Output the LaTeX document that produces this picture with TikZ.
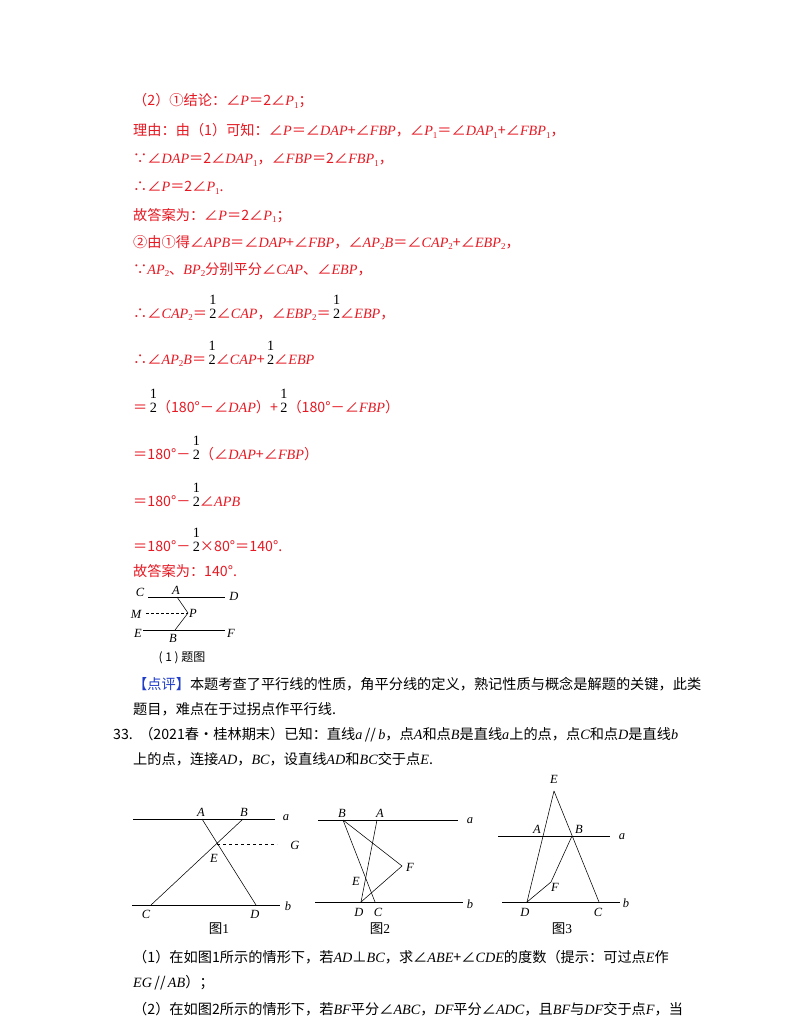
\documentclass[tikz,border=0pt]{standalone}
\usepackage{fontspec}
\setmainfont{Noto Sans CJK SC}
\newfontfamily\lib{Liberation Serif}
\newcommand\V[1]{{\lib\itshape #1}}
\newcommand\R[1]{{\lib #1}}
\newcommand\sub[1]{\raisebox{-0.35ex}{\lib\fontsize{9}{10}\selectfont #1}}
\newcommand\hf{\,\shortstack{\R{1}\\[1pt]\R{2}}}
\definecolor{ared}{RGB}{230,25,35}
\definecolor{ablue}{RGB}{30,60,200}
\begin{document}
\begin{tikzpicture}[x=1pt,y=-1pt,
  t/.style={anchor=base west,inner sep=0,font=\fontsize{14.2}{16}\selectfont},
  rt/.style={t,text=ared},
  lb/.style={inner sep=0,font=\fontsize{12.5}{14}\selectfont\lib\itshape},
  th/.style={line width=0.55pt}]
\useasboundingbox (0,0) rectangle (800,1035);
\fill[white] (0,0) rectangle (800,1035);
\node[rt] (l1) at (133,106) {（2）①结论：∠\V{P}＝2∠\V{P}\sub{1}；};
\node[rt] (l2) at (133,136) {理由：由（1）可知：∠\V{P}＝∠\V{DAP}+∠\V{FBP}，∠\V{P}\sub{1}＝∠\V{DAP}\sub{1}+∠\V{FBP}\sub{1}，};
\node[rt] (l3) at (133,164) {∵∠\V{DAP}＝2∠\V{DAP}\sub{1}，∠\V{FBP}＝2∠\V{FBP}\sub{1}，};
\node[rt] (l4) at (133,192) {∴∠\V{P}＝2∠\V{P}\sub{1}.};
\node[rt] (l5) at (133,220) {故答案为：∠\V{P}＝2∠\V{P}\sub{1}；};
\node[rt] (l6) at (133,247) {②由①得∠\V{APB}＝∠\V{DAP}+∠\V{FBP}，∠\V{AP}\sub{2}\V{B}＝∠\V{CAP}\sub{2}+∠\V{EBP}\sub{2}，};
\node[rt] (l7) at (133,274) {∵\V{AP}\sub{2}、\V{BP}\sub{2}分别平分∠\V{CAP}、∠\V{EBP}，};
\node[rt] (l8) at (133,318) {∴∠\V{CAP}\sub{2}＝{\color{black}\hf}∠\V{CAP}，∠\V{EBP}\sub{2}＝{\color{black}\hf}∠\V{EBP}，};
\node[rt] (l9) at (133,364) {∴∠\V{AP}\sub{2}\V{B}＝{\color{black}\hf}∠\V{CAP}+{\color{black}\hf}∠\V{EBP}};
\node[rt] (l10) at (133,412) {＝{\color{black}\hf}（180°－∠\V{DAP}）+{\color{black}\hf}（180°－∠\V{FBP}）};
\node[rt] (l11) at (133,459) {＝180°－{\color{black}\hf}（∠\V{DAP}+∠\V{FBP}）};
\node[rt] (l12) at (133,506) {＝180°－{\color{black}\hf}∠\V{APB}};
\node[rt] (l13) at (133,551) {＝180°－{\color{black}\hf}×80°＝140°.};
\node[rt] (l14) at (133,576) {故答案为：140°.};
% small figure
\coordinate (cC) at (148,597); \coordinate (cD) at (225,597);
\coordinate (cA) at (177,597); \coordinate (cP) at (188,613);
\coordinate (cM) at (146,613); \coordinate (cE) at (143,630);
\coordinate (cF) at (225,630); \coordinate (cB) at (175,630);
\draw[th] (cC)--(cD); \draw[th] (cE)--(cF);
\draw[th] (cA)--(cP)--(cB);
\draw[th,densely dashed] (cM)--(cP);
\node[lb] (tC) at (140,592) {C}; \node[lb] (tA) at (176,590) {A};
\node[lb] (tD) at (234,596) {D}; \node[lb] (tM) at (136,614) {M};
\node[lb] (tP) at (193,613) {P}; \node[lb] (tE) at (138,633) {E};
\node[lb] (tB) at (173,638) {B}; \node[lb] (tF) at (231,633) {F};
\node[inner sep=0,font=\fontsize{12}{13}\selectfont] (cap0) at (182,658) {( 1 ) 题图};
\node[t] (l15) at (133,689) {{\color{ablue}【点评】}本题考查了平行线的性质，角平分线的定义，熟记性质与概念是解题的关键，此类};
\node[t] (l16) at (133,714) {题目，难点在于过拐点作平行线.};
\node[t] (l17) at (113,739) {33.\ \ （2021春•桂林期末）已知：直线\V{a}\,//\,\V{b}，点\V{A}和点\V{B}是直线\V{a}上的点，点\V{C}和点\V{D}是直线\V{b}};
\node[t] (l18) at (133,764) {上的点，连接\V{AD}，\V{BC}，设直线\V{AD}和\V{BC}交于点\V{E}.};
% Figure 1
\coordinate (A1) at (202,819); \coordinate (B1) at (243,819);
\coordinate (C1) at (151,905); \coordinate (D1) at (256,905);
\coordinate (E1) at (217,844); \coordinate (G1) at (277,844);
\draw[th] (133,819)--(275,819); \draw[th] (132,905)--(280,905);
\draw[th] (A1)--(D1); \draw[th] (B1)--(C1);
\draw[th,dashed] (E1)--(G1);
\node[lb] (a1) at (286,818) {a}; \node[lb] (b1) at (288,906) {b};
\node[lb] (tA1) at (201,812) {A}; \node[lb] (tB1) at (244,812) {B};
\node[lb] (tG1) at (295,845) {G}; \node[lb] (tE1) at (214,858) {E};
\node[lb] (tC1) at (146,914) {C}; \node[lb] (tD1) at (255,914) {D};
\node[inner sep=0,font=\fontsize{13.5}{15}\selectfont] (cap1) at (219,929) {图\R{1}};
% Figure 2
\coordinate (B2) at (343,820); \coordinate (A2) at (377,820);
\coordinate (D2) at (361,902); \coordinate (C2) at (375,902);
\coordinate (F2) at (402,866);
\draw[th] (318,820)--(458,820); \draw[th] (315,902)--(463,902);
\draw[th] (B2)--(C2); \draw[th] (A2)--(D2);
\draw[th] (B2)--(F2)--(D2);
\node[lb] (a2) at (470,821) {a}; \node[lb] (b2) at (470,904) {b};
\node[lb] (tB2) at (342,813) {B}; \node[lb] (tA2) at (380,813) {A};
\node[lb] (tF2) at (410,867) {F}; \node[lb] (tE2) at (356,881) {E};
\node[lb] (tD2) at (359,912) {D}; \node[lb] (tC2) at (378,912) {C};
\node[inner sep=0,font=\fontsize{13.5}{15}\selectfont] (cap2) at (380,929) {图\R{2}};
% Figure 3
\coordinate (E3) at (554,791); \coordinate (D3) at (527,902);
\coordinate (C3) at (599,902); \coordinate (B3) at (572,836);
\coordinate (F3) at (551,882);
\draw[th] (498,836)--(610,836); \draw[th] (502,902)--(620,902);
\draw[th] (E3)--(D3); \draw[th] (E3)--(C3);
\draw[th] (B3)--(F3)--(D3);
\node[lb] (a3) at (622,837) {a}; \node[lb] (b3) at (626,903) {b};
\node[lb] (tE3) at (554,779) {E}; \node[lb] (tA3) at (537,829) {A};
\node[lb] (tB3) at (579,829) {B}; \node[lb] (tF3) at (555,887) {F};
\node[lb] (tD3) at (525,912) {D}; \node[lb] (tC3) at (598,912) {C};
\node[inner sep=0,font=\fontsize{13.5}{15}\selectfont] (cap3) at (562,929) {图\R{3}};
\node[t] (l19) at (133,962) {（1）在如图1所示的情形下，若\V{AD}⊥\V{BC}，求∠\V{ABE}+∠\V{CDE}的度数（提示：可过点\V{E}作};
\node[t] (l20) at (133,987) {\V{EG}\,//\,\V{AB}）；};
\node[t] (l21) at (133,1014) {（2）在如图2所示的情形下，若\V{BF}平分∠\V{ABC}，\V{DF}平分∠\V{ADC}，且\V{BF}与\V{DF}交于点\V{F}，当};
\end{tikzpicture}
\end{document}
